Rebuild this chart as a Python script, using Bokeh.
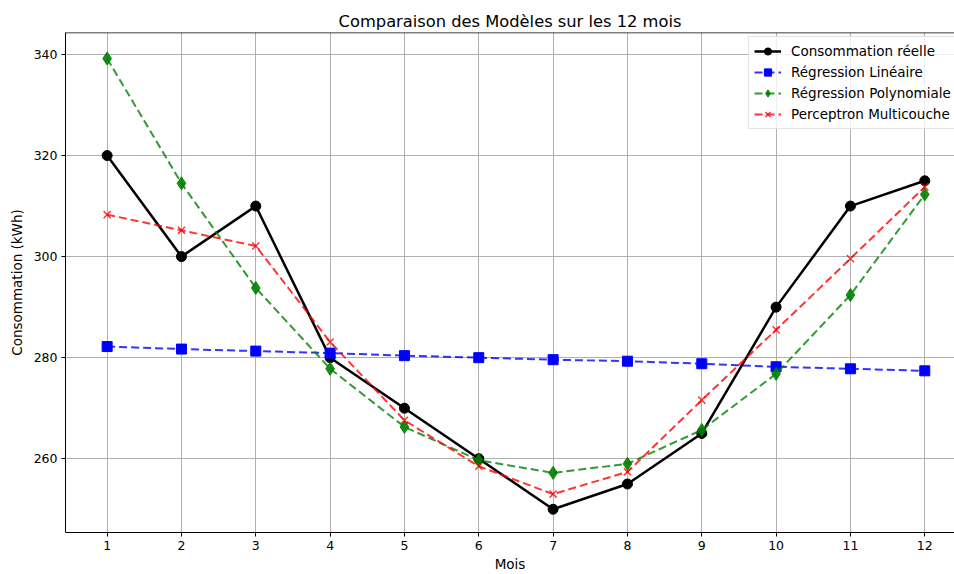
from bokeh.plotting import figure
from bokeh.models import FixedTicker, Range1d, Span
from bokeh.embed import file_html
from bokeh.resources import INLINE

mois = [1, 2, 3, 4, 5, 6, 7, 8, 9, 10, 11, 12]
reelle = [320, 300, 310, 280, 270, 260, 250, 255, 265, 290, 310, 315]
lineaire = [282.2, 281.7, 281.3, 280.9, 280.4, 280.0, 279.6, 279.3, 278.8, 278.2, 277.8, 277.4]
polynomiale = [339.2, 314.5, 293.8, 277.8, 266.3, 259.7, 257.2, 259.0, 265.7, 276.8, 292.4, 312.3]
perceptron = [308.3, 305.2, 302.1, 283.1, 267.6, 258.5, 253.0, 257.4, 271.6, 285.5, 299.6, 313.8]
x_ticks = [1, 2, 3, 4, 5, 6, 7, 8, 9, 10, 11, 12]
y_ticks = [260, 280, 300, 320, 340]

FONT = "DejaVu Sans"
Y_MIN, Y_MAX = 245.4, 344.35

p = figure(width=954, height=574, output_backend="svg", toolbar_location=None,
           title="Comparaison des Modèles sur les 12 mois",
           x_range=Range1d(0.44, 12.40), y_range=Range1d(Y_MIN, Y_MAX),
           min_border_left=65, min_border_right=0, min_border_top=32, min_border_bottom=41)

p.title.align = "center"
p.title.text_font = FONT
p.title.text_font_size = "16.3px"
p.title.text_font_style = "normal"
p.title.text_color = "#000000"
p.title.standoff = 3
p.title.offset = 0

p.outline_line_color = None
p.background_fill_color = "white"
p.border_fill_color = "white"

xa = p.below[0]
ya = p.left[0]
for ax in (xa, ya):
    ax.axis_label_text_font = FONT
    ax.axis_label_text_font_size = "13.5px"
    ax.axis_label_text_font_style = "normal"
    ax.axis_label_text_color = "#000000"
    ax.major_label_text_font = FONT
    ax.major_label_text_font_size = "12.5px"
    ax.major_label_text_color = "#000000"
    ax.axis_line_color = "#000000"
    ax.major_tick_line_color = "#000000"
    ax.major_tick_out = 4
    ax.major_tick_in = 0
    ax.minor_tick_line_color = None

xa.ticker = FixedTicker(ticks=x_ticks)
ya.ticker = FixedTicker(ticks=y_ticks)
xa.axis_label = "Mois"
ya.axis_label = "Consommation (kWh)"
xa.axis_label_standoff = 3
ya.axis_label_standoff = 6
xa.major_label_standoff = 4
ya.major_label_standoff = 4

p.xgrid.ticker = FixedTicker(ticks=x_ticks)
p.ygrid.ticker = FixedTicker(ticks=y_ticks)
p.grid.grid_line_color = "#b0b0b0"
p.grid.grid_line_width = 1

# top spine of the axes box
p.add_layout(Span(location=Y_MAX, dimension="width", line_color="#000000", line_width=1.5))

lab1 = "Consommation réelle"
lab2 = "Régression Linéaire"
lab3 = "Régression Polynomiale"
lab4 = "Perceptron Multicouche"

p.line(mois, reelle, line_color="black", line_width=2.5, legend_label=lab1)
p.scatter(mois, reelle, marker="circle", size=10, fill_color="black", line_color="black", legend_label=lab1)

p.line(mois, lineaire, line_color="blue", line_width=2, line_dash="8 4", line_alpha=0.8, legend_label=lab2)
p.scatter(mois, lineaire, marker="square", size=10, fill_color="blue", line_color="blue", legend_label=lab2)

p.line(mois, polynomiale, line_color="green", line_width=2, line_dash="8 4", line_alpha=0.8, legend_label=lab3)
p.scatter(mois, polynomiale, marker="diamond", size=13, fill_color="green", line_color="green", alpha=0.9, legend_label=lab3)

p.line(mois, perceptron, line_color="red", line_width=2, line_dash="8 4", line_alpha=0.8, legend_label=lab4)
p.scatter(mois, perceptron, marker="x", size=10, line_color="red", line_width=1.5, alpha=0.8, legend_label=lab4)

p.legend.location = (683, 403)
p.legend.label_text_font = FONT
p.legend.label_text_font_size = "13.5px"
p.legend.label_text_color = "#000000"
p.legend.glyph_width = 27
p.legend.glyph_height = 18
p.legend.label_height = 18
p.legend.spacing = 3
p.legend.padding = 5
p.legend.margin = 0
p.legend.label_standoff = 10
p.legend.border_line_color = "#cccccc"
p.legend.border_line_width = 1
p.legend.background_fill_alpha = 0.8

open("out.html", "w").write(file_html(p, INLINE))
